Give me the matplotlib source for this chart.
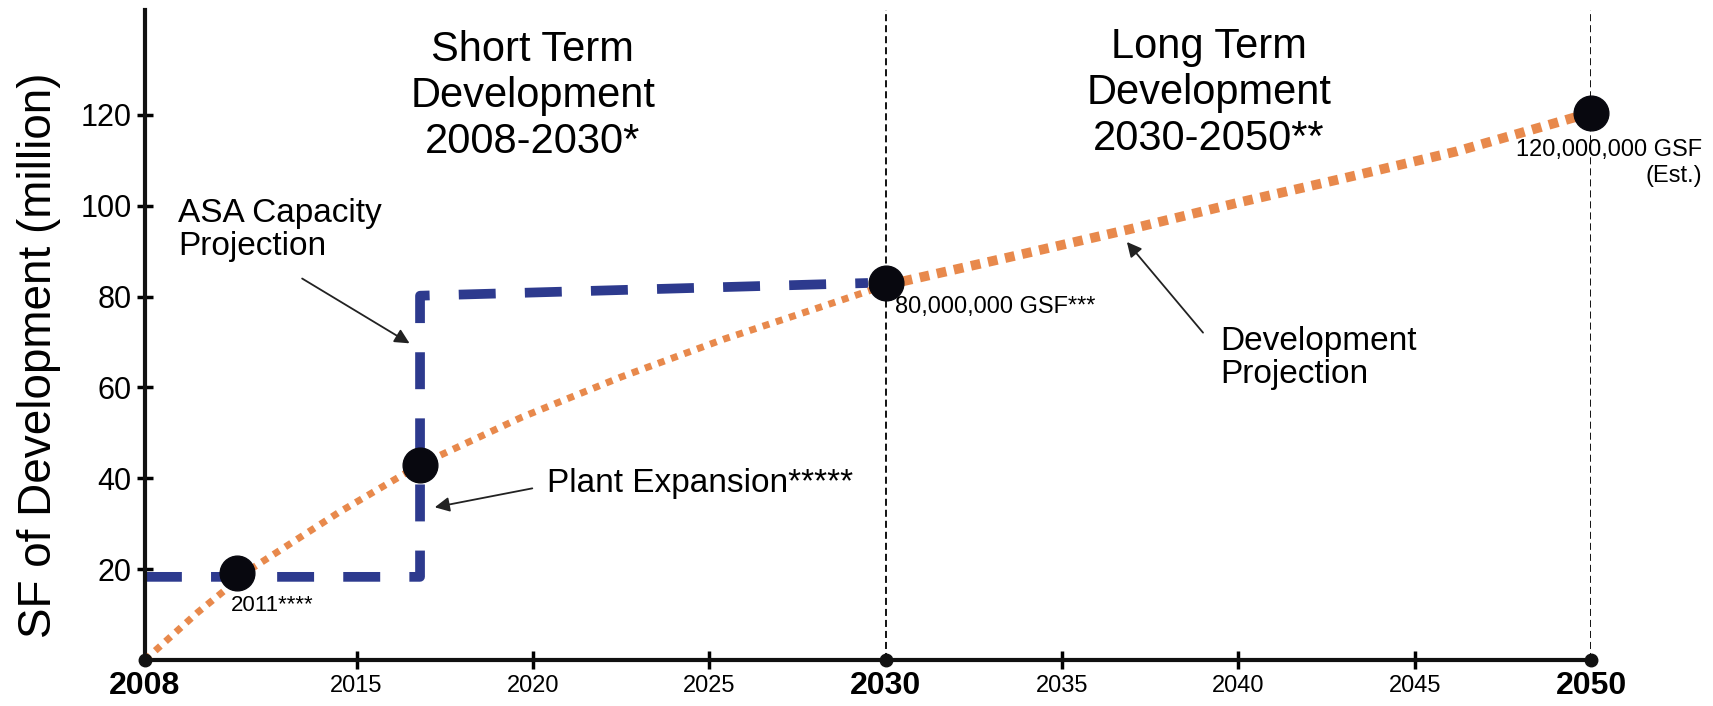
import matplotlib.pyplot as plt

# development projection (orange dotted curve), SF in millions
dev_years = [2009, 2010.5, 2012, 2014.5, 2016.8, 2019.7, 2022.5, 2025.4, 2028, 2030,
             2033.4, 2036.9, 2040, 2042.9, 2046.2, 2050]
dev_values = [0, 10.5, 20, 32.5, 43, 53.5, 62.3, 70.6, 77.3, 82.5,
              88.5, 94.8, 100.7, 105.9, 112, 120.5]

# ASA capacity projection (blue dashed step)
asa_years = [2009, 2016.8, 2016.8, 2029.5]
asa_values = [18.3, 18.3, 80.2, 83]

# milestone points
pt_years = [2011.6, 2016.8, 2030, 2050]
pt_values = [19.2, 43.0, 83.0, 120.5]

y_ticks = [20, 40, 60, 80, 100, 120]
major_years = [2009, 2030, 2050]
major_labels = ['2008', '2030', '2050']
minor_years = [2015, 2020, 2025, 2035, 2040, 2045]
minor_labels = ['2015', '2020', '2025', '2035', '2040', '2045']

ORANGE = '#E8894C'
BLUE = '#2D3A8E'
SANS = ['Liberation Sans', 'DejaVu Sans']
NARROW = ['Liberation Sans Narrow', 'Liberation Sans', 'DejaVu Sans']

fig = plt.figure(figsize=(17.13, 7.06), dpi=100)
ax = fig.add_axes([0.0846, 0.0652, 0.8442, 0.9206])
ax.set_xlim(2009, 2050)
ax.set_ylim(0, 143.1)

# period separators
for yr in [2030, 2050]:
    ax.axvline(yr, color='black', lw=1.3, dashes=(3.9, 2.2), zorder=1)

ax.plot(asa_years, asa_values, color=BLUE, lw=7, dashes=(3.8, 3.0),
        solid_capstyle='butt', dash_capstyle='butt', zorder=2)

i30 = dev_years.index(2030)
ax.plot(dev_years[:i30 + 1], dev_values[:i30 + 1], color=ORANGE, lw=5,
        dashes=(1, 1), dash_capstyle='butt', zorder=3)
ax.plot(dev_years[i30:], dev_values[i30:], color=ORANGE, lw=7,
        dashes=(1, 0.8), dash_capstyle='butt', zorder=3)

ax.plot(pt_years, pt_values, 'o', ms=25, color='#08080f', zorder=5, clip_on=False)

# axes styling
for s in ['top', 'right']:
    ax.spines[s].set_visible(False)
for s in ['left', 'bottom']:
    ax.spines[s].set_linewidth(3)
    ax.spines[s].set_color('#111111')
ax.plot(major_years, [0] * len(major_years), 'o', ms=9, color='#111111',
        clip_on=False, zorder=6)

ax.set_yticks(y_ticks)
ax.set_yticklabels([str(v) for v in y_ticks], family=SANS, fontsize=22)
ax.tick_params(axis='y', direction='inout', length=11, width=2.5, pad=4)

ax.set_xticks(major_years)
ax.set_xticklabels(major_labels, family=NARROW, fontsize=23, fontweight='bold')
ax.set_xticks(minor_years, minor=True)
ax.set_xticklabels(minor_labels, minor=True, family=NARROW, fontsize=17)
ax.tick_params(axis='x', which='major', length=0, pad=8)
ax.tick_params(axis='x', which='minor', direction='inout', length=13, width=2.5, pad=4)

fig.text(0.023, 0.497, 'SF of Development (million)', rotation=90, ha='center',
         va='center', family=SANS, fontsize=33)

# headings
ax.text(2020.0, 124.2, 'Short Term\nDevelopment\n2008-2030*', ha='center', va='center',
        family=SANS, fontsize=30, linespacing=1.2)
ax.text(2039.17, 124.8, 'Long Term\nDevelopment\n2030-2050**', ha='center', va='center',
        family=SANS, fontsize=30, linespacing=1.2)

# annotations
arrow = dict(arrowstyle='-|>', color='#222222', lw=1.3, mutation_scale=22)
ax.text(2009.94, 94.7, 'ASA Capacity\nProjection', ha='left', va='center',
        family=SANS, fontsize=24, linespacing=1.1)
ax.annotate('', xy=(2016.57, 69.4), xytext=(2013.39, 84.3), arrowprops=arrow)

ax.text(2020.4, 38.75, 'Plant Expansion*****', ha='left', va='center',
        family=SANS, fontsize=24)
ax.annotate('', xy=(2017.14, 33.5), xytext=(2020.06, 37.9), arrowprops=arrow)

ax.text(2039.48, 66.5, 'Development\nProjection', ha='left', va='center',
        family=SANS, fontsize=24, linespacing=1.1)
ax.annotate('', xy=(2036.79, 92.5), xytext=(2039.05, 71.6), arrowprops=arrow)

ax.text(2030.26, 77.7, '80,000,000 GSF***', ha='left', va='center',
        family=NARROW, fontsize=17)
ax.text(2053.14, 109.4, '120,000,000 GSF\n(Est.)', ha='right', va='center',
        family=NARROW, fontsize=17, linespacing=1.2)
ax.text(2012.6, 12.1, '2011****', ha='center', va='center', family=NARROW, fontsize=16)

fig.savefig('out.png', dpi=100)
